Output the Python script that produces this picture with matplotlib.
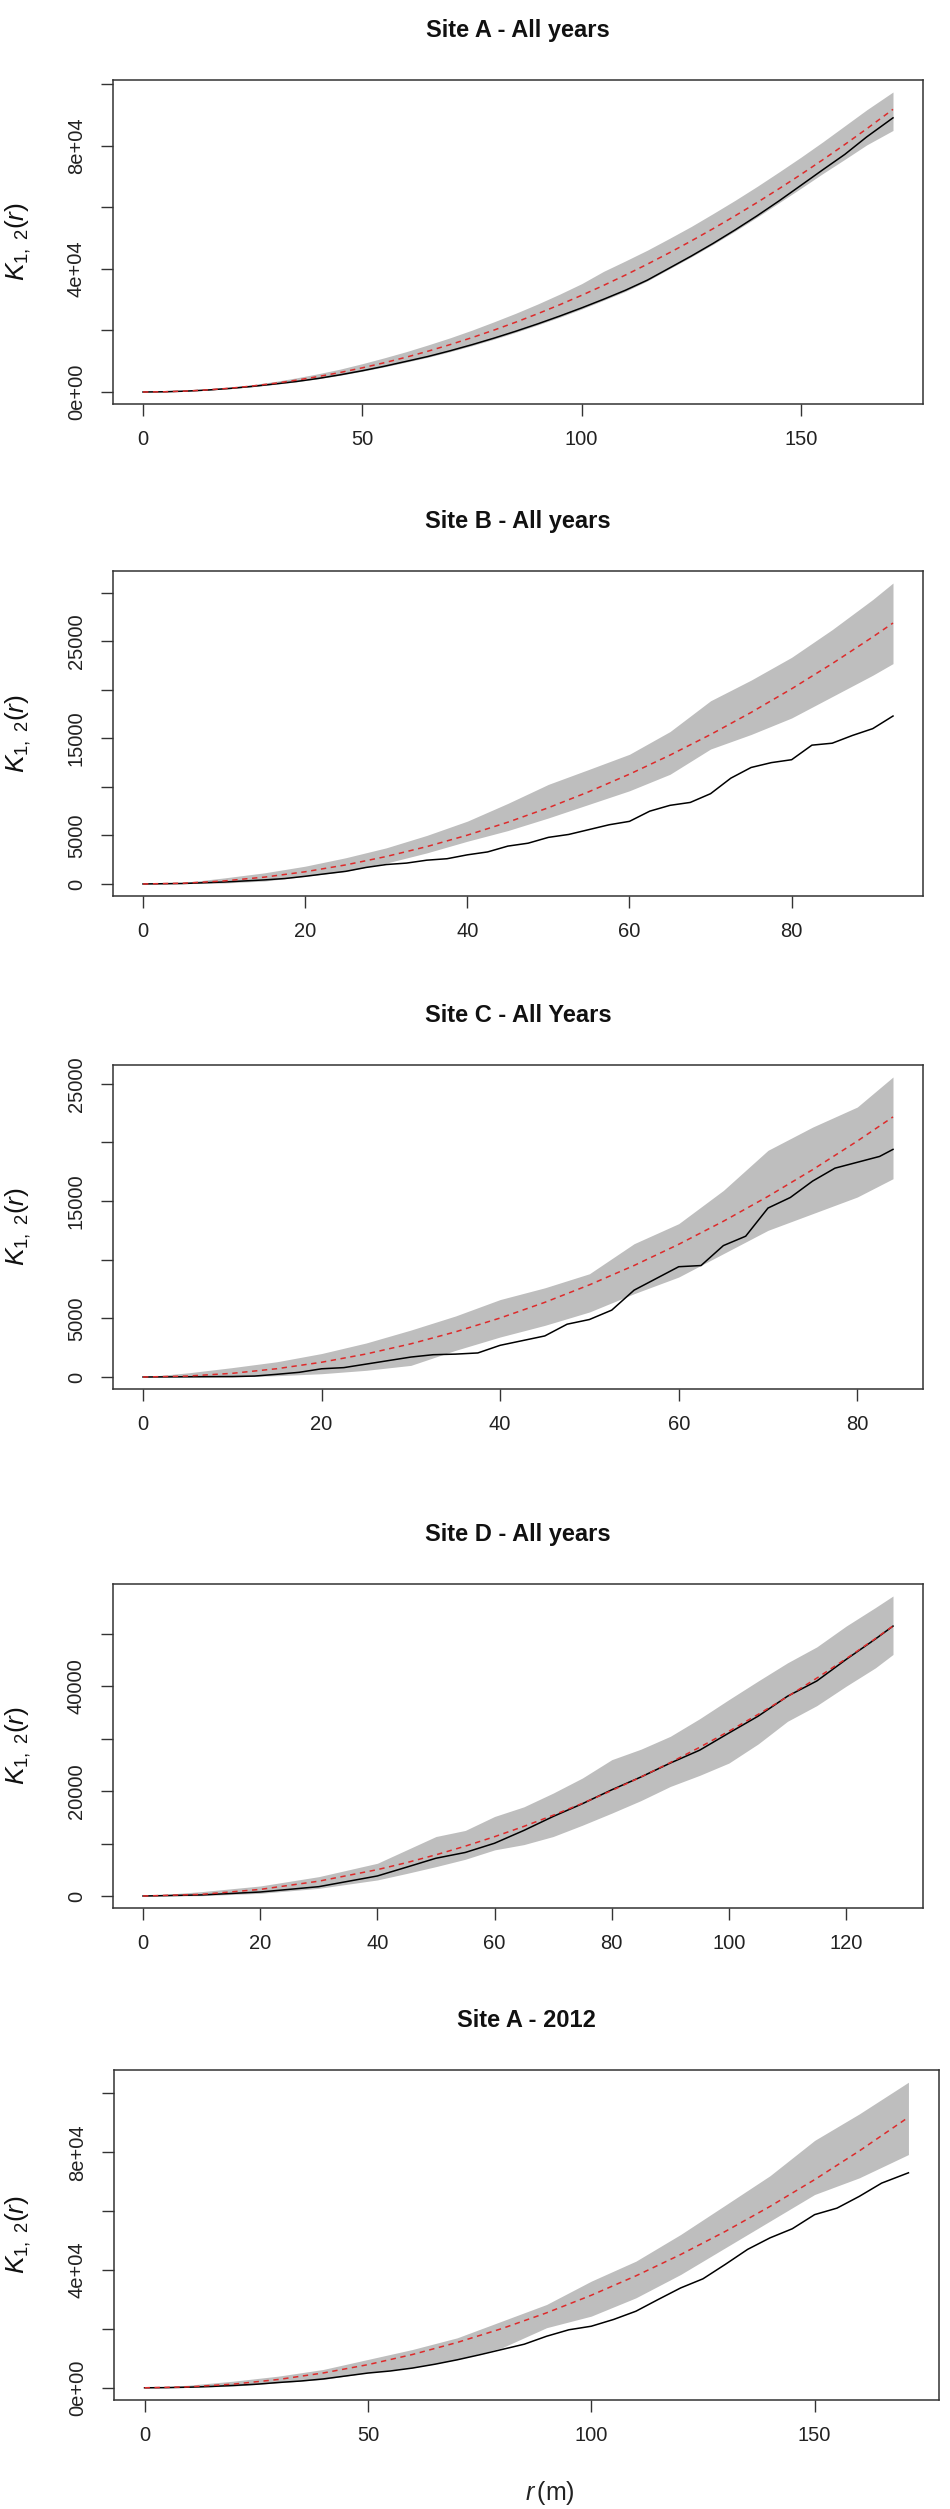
import numpy as np
import matplotlib
matplotlib.use("Agg")
import matplotlib.pyplot as plt

plt.rcParams['font.family'] = ['Liberation Sans', 'DejaVu Sans']
plt.rcParams['mathtext.fontset'] = 'custom'
plt.rcParams['mathtext.rm'] = 'Liberation Sans'
plt.rcParams['mathtext.it'] = 'Liberation Sans:italic'

# ---------------- data ----------------
titles = ["Site A - All years", "Site B - All years", "Site C - All Years",
          "Site D - All years", "Site A - 2012"]

# Site A - All years
rA = [0, 5, 10, 15, 20, 25, 30, 35, 40, 45, 50, 55, 60, 65, 70, 75, 80, 85, 90, 95,
      100, 105, 110, 115, 120, 125, 130, 135, 140, 145, 150, 155, 160, 165, 171]
theoA = [0, 79, 314, 707, 1257, 1963, 2827, 3848, 5027, 6362, 7854, 9503, 11310, 13273,
         15394, 17671, 20106, 22698, 25447, 28353, 31416, 34636, 38013, 41548, 45239,
         49087, 53093, 57256, 61575, 66052, 70686, 75477, 80425, 85530, 91863]
obsA = [0, 75, 300, 670, 1190, 1830, 2600, 3420, 4420, 5600, 6910, 8360, 9950, 11550,
        13390, 15370, 17490, 19750, 22140, 24670, 27330, 30130, 33070, 36360, 40260,
        44180, 48310, 52680, 57260, 62090, 67150, 72230, 77210, 82900, 89100]
loA = [0, 60, 260, 610, 1100, 1720, 2480, 3300, 4300, 5450, 6750, 8160, 9700, 11300,
       13100, 15050, 17150, 19400, 21800, 24300, 26950, 29800, 32700, 36100, 40000,
       43900, 48000, 52300, 56800, 61500, 66200, 71000, 75600, 80300, 85000]
hiA = [0, 110, 420, 900, 1560, 2400, 3400, 4600, 5950, 7450, 9200, 11100, 13100, 15300,
       17600, 20100, 22800, 25600, 28600, 31800, 35200, 39200, 42600, 46100, 49900,
       53800, 58000, 62300, 66800, 71500, 76300, 81300, 86500, 91700, 97500]

# Site B - All years
rB = [0, 5, 10, 15, 20, 25, 30, 35, 40, 45, 50, 55, 60, 65, 70, 75, 80, 85, 90, 92.5]
theoB = [0, 79, 314, 707, 1257, 1963, 2827, 3848, 5027, 6362, 7854, 9503, 11310, 13273,
         15394, 17671, 20106, 22698, 25447, 26880]
loB = [0, 40, 100, 300, 790, 1300, 2150, 3200, 4400, 5500, 6800, 8200, 9600, 11300,
       13900, 15400, 17100, 19300, 21500, 22700]
hiB = [0, 150, 620, 1150, 1830, 2700, 3720, 5000, 6470, 8300, 10260, 11800, 13360,
       15700, 18870, 21000, 23350, 26200, 29300, 31000]
robsB = [0, 5, 10, 15, 17.5, 20, 22.5, 25, 27.5, 30, 32.5, 35, 37.5, 40, 42.5, 45, 47.5,
         50, 52.5, 55, 57.5, 60, 62.5, 65, 67.5, 70, 72.5, 75, 77.5, 80, 82.5, 85, 87.5,
         90, 92.5]
obsB = [0, 50, 200, 420, 560, 790, 1050, 1300, 1700, 2000, 2150, 2450, 2600, 3000, 3300,
        3900, 4200, 4800, 5100, 5600, 6100, 6450, 7500, 8100, 8400, 9300, 10900, 12000,
        12500, 12800, 14300, 14500, 15300, 16000, 17300]

# Site C - All Years
rC = [0, 5, 10, 15, 20, 25, 30, 35, 40, 45, 50, 55, 60, 65, 70, 75, 80, 84]
theoC = [0, 79, 314, 707, 1257, 1963, 2827, 3848, 5027, 6362, 7854, 9503, 11310, 13273,
         15394, 17671, 20106, 22167]
loC = [0, 0, 0, 110, 280, 570, 990, 2270, 3410, 4400, 5540, 7100, 8520, 10510, 12500,
       13920, 15340, 16900]
hiC = [0, 350, 800, 1300, 2000, 2900, 4000, 5200, 6600, 7600, 8800, 11360, 13070, 15900,
       19320, 21300, 23010, 25570]
robsC = [0, 5, 10, 12.5, 15, 17.5, 20, 22.5, 25, 27.5, 30, 32.5, 35, 37.5, 40, 42.5, 45,
         47.5, 50, 52.5, 55, 57.5, 60, 62.5, 65, 67.5, 70, 72.5, 75, 77.5, 80, 82.5, 84]
obsC = [0, 20, 40, 80, 230, 400, 700, 800, 1100, 1400, 1700, 1900, 1950, 2050, 2700,
        3100, 3500, 4500, 4900, 5700, 7400, 8400, 9400, 9500, 11200, 12000, 14400, 15300,
        16700, 17800, 18300, 18800, 19400]

# Site D - All years
rD = [0, 10, 20, 30, 40, 45, 50, 55, 60, 65, 70, 75, 80, 85, 90, 95, 100, 105, 110,
      115, 120, 125, 128]
theoD = [0, 314, 1257, 2827, 5027, 6362, 7854, 9503, 11310, 13273, 15394, 17671, 20106,
         22698, 25447, 28353, 31416, 34636, 38013, 41548, 45239, 49087, 51472]
obsD = [0, 200, 760, 1780, 3820, 5500, 7200, 8300, 10060, 12500, 15160, 17600, 20250,
        22700, 25350, 27800, 31080, 34300, 38090, 41000, 45100, 49000, 51460]
loD = [0, 60, 510, 1460, 3060, 4300, 5600, 7000, 8790, 9800, 11340, 13500, 15800, 18200,
       20890, 23000, 25350, 29000, 33310, 36300, 40000, 43500, 46050]
hiD = [0, 830, 1910, 3690, 6240, 8790, 11340, 12500, 15160, 17000, 19620, 22500, 25990,
       28000, 30450, 33800, 37450, 41000, 44460, 47500, 51460, 55000, 57200]

# Site A - 2012
rE = [0, 10, 20, 30, 40, 50, 60, 70, 80, 90, 100, 110, 120, 130, 140, 150, 160, 171]
theoE = [0, 314, 1257, 2827, 5027, 7854, 11310, 15394, 20106, 25447, 31416, 38013, 45239,
         53093, 61575, 70686, 80425, 91863]
loE = [0, 110, 570, 1700, 2830, 5090, 6790, 9620, 13580, 20400, 24330, 30550, 38470,
       47530, 56580, 65630, 71290, 79200]
hiE = [0, 900, 2260, 3960, 6220, 9620, 13010, 16970, 22630, 28290, 36210, 43000, 52050,
       62000, 72000, 84000, 93000, 103760]
robsE = [0, 5, 10, 15, 20, 25, 30, 35, 40, 45, 50, 55, 60, 65, 70, 75, 80, 85, 90, 95,
         100, 105, 110, 115, 120, 125, 130, 135, 140, 145, 150, 155, 160, 165, 171]
obsE = [0, 50, 200, 450, 800, 1200, 1800, 2300, 3000, 4000, 5000, 5700, 6700, 8000, 9500,
        11200, 13000, 14800, 17500, 19700, 20900, 23200, 26000, 30000, 33900, 37000,
        41900, 47000, 50900, 54000, 58800, 61000, 65000, 69500, 73000]

# tick positions and labels
xticksA = [0, 50, 100, 150]
xticksBC = [0, 20, 40, 60, 80]
xticksD = [0, 20, 40, 60, 80, 100, 120]
yticksA = [0, 20000, 40000, 60000, 80000, 100000]
ylabA = ["0e+00", "", "4e+04", "", "8e+04", ""]
yticksB = [0, 5000, 10000, 15000, 20000, 25000, 30000]
ylabB = ["0", "5000", "", "15000", "", "25000", ""]
yticksC = [0, 5000, 10000, 15000, 20000, 25000]
ylabC = ["0", "5000", "", "15000", "", "25000"]
yticksD = [0, 10000, 20000, 30000, 40000, 50000]
ylabD = ["0", "", "20000", "", "40000", ""]

panels = [
    (rA, theoA, loA, hiA, rA, obsA, xticksA, yticksA, ylabA),
    (rB, theoB, loB, hiB, robsB, obsB, xticksBC, yticksB, ylabB),
    (rC, theoC, loC, hiC, robsC, obsC, xticksBC, yticksC, ylabC),
    (rD, theoD, loD, hiD, rD, obsD, xticksD, yticksD, ylabD),
    (rE, theoE, loE, hiE, robsE, obsE, xticksA, yticksA, ylabA),
]

# ---------------- layout (pixels) ----------------
W, H = 950, 2509
boxes = [  # left, right, top, bottom
    (113, 923, 80, 404),
    (113, 923, 571, 896),
    (113, 923, 1065, 1389),
    (113, 923, 1584, 1908),
    (114, 939, 2070, 2400),
]

fig = plt.figure(figsize=(W / 100, H / 100), dpi=100)
fig.patch.set_facecolor('white')

tick_col = '#222222'
for i, ((r, theo, lo, hi, ro, obs, xt, yt, yl), (L, R, T, B)) in enumerate(zip(panels, boxes)):
    ax = fig.add_axes([L / W, 1 - B / H, (R - L) / W, (B - T) / H])
    r = np.asarray(r, float)
    ax.fill_between(r, lo, hi, color='#BEBEBE', lw=0, zorder=1)
    ax.plot(ro, obs, color='black', lw=1.1, zorder=2)
    ax.plot(r, theo, color='#DD2B2B', lw=1.1, ls=(0, (3.5, 3)), zorder=3)
    rmax = r.max()
    ymax = max(hi)
    ax.set_xlim(-0.04 * rmax, 1.04 * rmax)
    ax.set_ylim(-0.04 * ymax, 1.04 * ymax)
    ax.set_xticks(xt)
    ax.set_xticklabels([str(v) for v in xt])
    ax.set_yticks(yt)
    ax.set_yticklabels(yl, rotation=90, va='center')
    ax.tick_params(axis='both', direction='out', length=8.6, width=1.0,
                   colors='#333333', labelcolor=tick_col, labelsize=14.5)
    ax.tick_params(axis='x', pad=10)
    ax.tick_params(axis='y', pad=11)
    for s in ax.spines.values():
        s.set_linewidth(1.1)
        s.set_color('#333333')
    # title
    fig.text(((L + R) / 2) / W, 1 - (T - 43) / H, titles[i], ha='center',
             va='baseline', fontsize=17, fontweight='bold', color='#111111')
    # y label
    fig.text(18 / W, 1 - ((T + B) / 2) / H, r'$K_{1,\ 2}(r)$', rotation=90,
             ha='center', va='center', fontsize=19, color='#111111')

fig.text(550 / W, 1 - 2493 / H, r'$r\,$(m)', ha='center', va='center',
         fontsize=18, color='#222222')

fig.savefig('out.png', dpi=100, facecolor='white')
